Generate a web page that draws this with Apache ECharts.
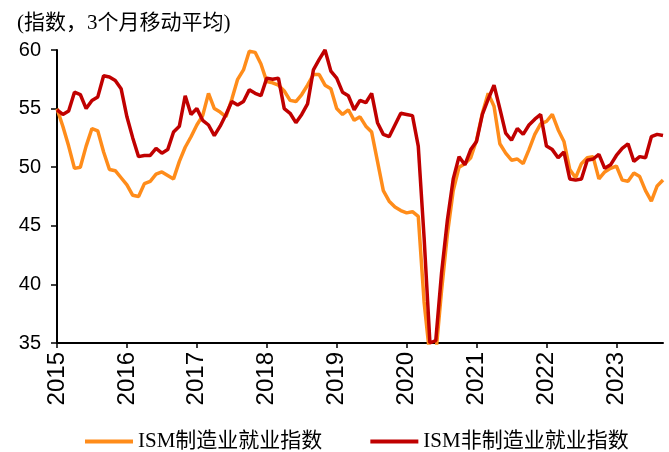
<!DOCTYPE html>
<html>
<head>
<meta charset="utf-8">
<script src="https://cdn.jsdelivr.net/npm/echarts@6/dist/echarts.min.js"></script>
<style>
  html, body { margin: 0; padding: 0; background: #fff; }
  #chart { width: 669px; height: 452px; }
</style>
</head>
<body>
<div id="chart"></div>
<script>
// 月度数据：2015-01 到 2023-09，3个月移动平均
const startYear = 2015;
const monthCount = 105;

// ISM制造业就业指数
const mfgEmployment = [
  55.0, 53.5, 51.8, 49.9, 50.0, 51.8, 53.3, 53.1, 51.3, 49.8, 49.7, 49.1,
  48.5, 47.6, 47.5, 48.6, 48.8, 49.4, 49.6, 49.3, 49.0, 50.5, 51.7, 52.6,
  53.6, 54.4, 56.3, 55.0, 54.7, 54.3, 55.8, 57.5, 58.3, 59.9, 59.8, 58.8,
  57.3, 57.2, 57.0, 56.5, 55.7, 55.6, 56.2, 57.0, 57.9, 57.9, 57.0, 56.7,
  55.0, 54.5, 54.9, 54.0, 54.3, 53.5, 53.0, 50.5, 48.0, 47.1, 46.6, 46.3,
  46.1, 46.2, 45.8, 38.5, 33.8, 34.0, 39.5, 44.3, 48.0, 50.0, 50.3, 50.8,
  52.3, 54.6, 56.3, 55.2, 52.0, 51.2, 50.6, 50.7, 50.3, 51.5, 52.8, 53.7,
  53.9, 54.5, 53.2, 52.2, 49.8, 49.1, 50.3, 50.8, 50.9, 49.0, 49.6, 49.9,
  50.1, 48.9, 48.8, 49.5, 49.2, 48.0, 47.1, 48.4, 48.9
];

// ISM非制造业就业指数
const nonMfgEmployment = [
  54.9, 54.5, 54.8, 56.4, 56.2, 55.0, 55.7, 56.0, 57.8, 57.7, 57.4, 56.7,
  54.3, 52.5, 50.9, 51.0, 51.0, 51.6, 51.2, 51.5, 53.0, 53.5, 56.1, 54.5,
  55.0, 54.0, 53.6, 52.7, 53.5, 54.5, 55.6, 55.3, 55.6, 56.6, 56.3, 56.1,
  57.6, 57.5, 57.6, 55.0, 54.6, 53.8, 54.5, 55.4, 58.3, 59.2, 60.0, 58.2,
  57.6, 56.4, 56.1, 54.9, 55.7, 55.5, 56.3, 53.8, 52.8, 52.6, 53.6, 54.6,
  54.5, 54.4, 51.8, 44.0, 35.0, 35.2, 41.0, 45.5, 49.0, 50.9, 50.2, 51.5,
  52.2, 54.5, 55.8, 57.0, 55.0, 52.9, 52.3, 53.3, 52.8, 53.6, 54.1, 54.5,
  51.8, 51.5, 50.8, 51.3, 49.0, 48.9, 49.0, 50.6, 50.7, 51.1, 49.9, 50.2,
  51.0, 51.6, 52.0, 50.5, 50.9, 50.8, 52.6, 52.8, 52.7
];

const seriesNames = ['ISM制造业就业指数', 'ISM非制造业就业指数'];
const seriesColors = ['#FF8C1A', '#C00000'];

// 横轴：每个月一个类目，只在每年1月显示年份
const months = [];
for (let i = 0; i < monthCount; i++) {
  const y = startYear + Math.floor(i / 12);
  const m = (i % 12) + 1;
  months.push(y + '-' + (m < 10 ? '0' + m : m));
}

const chart = echarts.init(document.getElementById('chart'), null, { renderer: 'canvas' });

const serifCJK = '"Liberation Serif", "Noto Sans CJK SC", serif';
const sansFont = '"Liberation Sans", Arial, sans-serif';
const yearTick = (index) => index % 12 === 0;

const option = {
  backgroundColor: '#fff',
  animation: false,
  title: {
    text: '(指数，3个月移动平均)',
    left: 12,
    top: 8,
    textStyle: {
      fontFamily: serifCJK,
      fontSize: 21,
      fontWeight: 'normal',
      color: '#000'
    }
  },
  grid: {
    left: 57,
    right: 6,
    top: 50,
    bottom: 109
  },
  legend: {
    data: seriesNames,
    left: 80,
    top: 426,
    itemGap: 48,
    icon: 'rect',
    itemWidth: 48,
    itemHeight: 4,
    textStyle: {
      fontFamily: serifCJK,
      fontSize: 21,
      color: '#000'
    }
  },
  xAxis: {
    type: 'category',
    data: months,
    boundaryGap: false,
    axisLine: { lineStyle: { color: '#000', width: 2 } },
    axisTick: {
      interval: yearTick,
      length: 5,
      lineStyle: { color: '#000', width: 1.5 }
    },
    axisLabel: {
      interval: yearTick,
      rotate: 90,
      margin: 9,
      fontFamily: sansFont,
      fontSize: 24,
      color: '#000',
      formatter: (value) => value.slice(0, 4)
    },
    splitLine: { show: false }
  },
  yAxis: {
    type: 'value',
    min: 35,
    max: 60,
    interval: 5,
    axisLine: { show: true, lineStyle: { color: '#000', width: 2 } },
    axisTick: { show: true, length: 6, lineStyle: { color: '#000', width: 1.5 } },
    axisLabel: {
      margin: 16,
      fontFamily: sansFont,
      fontSize: 20,
      color: '#000'
    },
    splitLine: { show: false }
  },
  series: [
    {
      name: seriesNames[0],
      type: 'line',
      data: mfgEmployment,
      symbol: 'none',
      color: seriesColors[0],
      lineStyle: { width: 3.5, color: seriesColors[0] },
      z: 2
    },
    {
      name: seriesNames[1],
      type: 'line',
      data: nonMfgEmployment,
      symbol: 'none',
      color: seriesColors[1],
      lineStyle: { width: 3.5, color: seriesColors[1] },
      z: 3
    }
  ]
};

chart.setOption(option);
</script>
</body>
</html>
